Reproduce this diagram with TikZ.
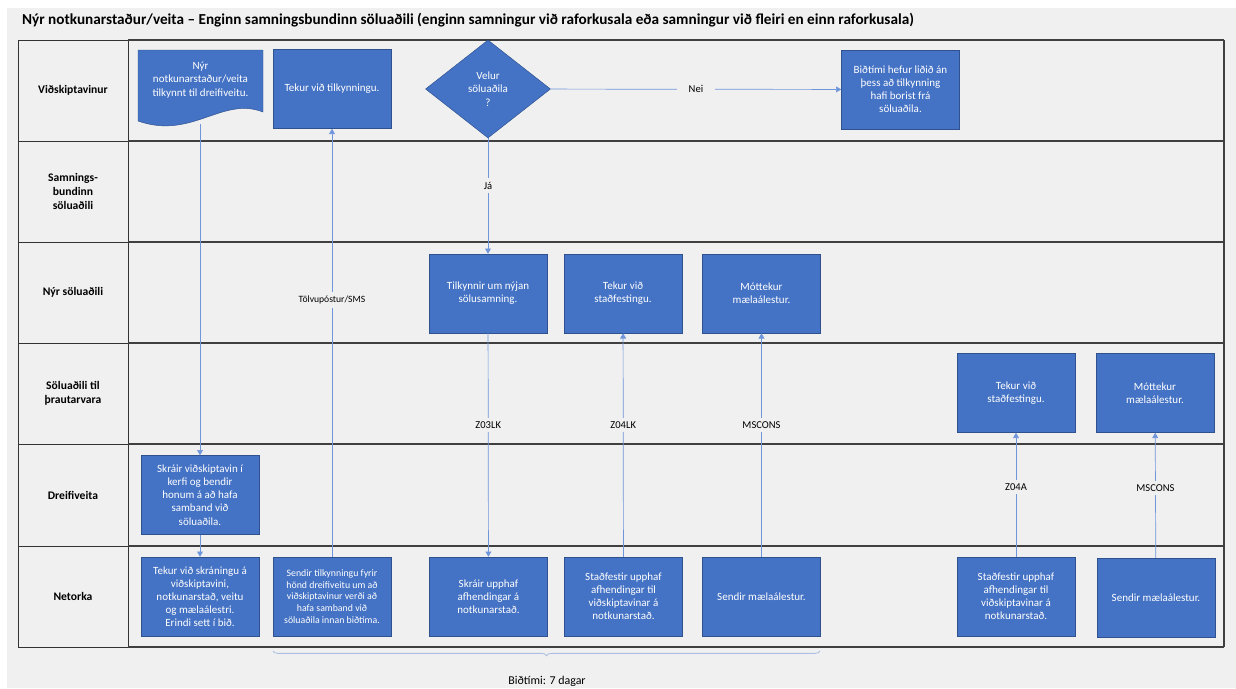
\documentclass[tikz,border=0pt]{standalone}
\usepackage{fontspec}
\setmainfont{Carlito}
\usetikzlibrary{shapes.geometric,arrows.meta,decorations.pathreplacing}
\definecolor{bgc}{HTML}{F0F0F0}
\definecolor{boxfill}{HTML}{4472C4}
\definecolor{boxline}{HTML}{2F528F}
\definecolor{flow}{HTML}{6F95DA}
\definecolor{bracec}{HTML}{A9BFE3}

\begin{document}
\begin{tikzpicture}[x=0.03cm,y=-0.03cm,
    stepbox/.style={draw=boxline,fill=boxfill,text=white,align=center,
      minimum width=3.54cm,minimum height=2.37cm,inner sep=1pt,
      font=\fontsize{9.4}{11.2}\selectfont},
    choice/.style={diamond,draw=boxline,fill=boxfill,text=white,align=center,
      minimum width=3.75cm,minimum height=2.94cm,inner sep=0pt,
      font=\fontsize{9.4}{11.6}\selectfont},
    lane/.style={align=center,font=\bfseries\fontsize{9.9}{12}\selectfont},
    flow/.style={draw=flow,line width=0.6pt,-{Triangle[width=5pt,length=4.5pt]}},
    flowlbl/.style={fill=bgc,text=black,inner sep=3pt,font=\fontsize{9}{10}\selectfont}]

    \useasboundingbox (0,0) rectangle (1236,688);
    \fill[bgc] (7,8) rectangle (1236,688);

    % Title
    \node[anchor=west,font=\bfseries\fontsize{13}{15}\selectfont] (title) at (18,20)
        {Nýr notkunarstaður/veita – Enginn samningsbundinn söluaðili (enginn samningur við raforkusala eða samningur við fleiri en einn raforkusala)};

    % Swimlanes
    \draw[black!80,line width=0.6pt] (18,40) rectangle (128,647);
    \foreach \y in {141,242,343,444,546}
        \draw[black!80,line width=0.6pt] (18,\y) -- (128,\y);
    \foreach \y in {40,141,242,343,444,546,647}
        \draw[black!75,line width=1.3pt] (128,\y) -- (1224,\y);
    \draw[black!75,line width=1.3pt] (1224,40) -- (1224,647);

    \node[lane] (l1) at (73,90.5) {Viðskiptavinur};
    \node[lane] (l2) at (73,191.5) {Samnings-\\bundinn\\söluaðili};
    \node[lane] (l3) at (73,292.5) {Nýr söluaðili};
    \node[lane] (l4) at (73,393.5) {Söluaðili til\\þrautarvara};
    \node[lane] (l5) at (73,495) {Dreifiveita};
    \node[lane] (l6) at (73,596.5) {Netorka};

    % Viðskiptavinur
    \draw[draw=boxline,fill=boxfill] (138,50) -- (263,50) -- (263,112)
        .. controls (222,96) and (192,140) .. (138,121) -- cycle;
    \node[text=white,align=center,font=\fontsize{9.4}{11.2}\selectfont] (nyr) at (200.5,80)
        {Nýr\\notkunarstaður/veita\\tilkynnt til dreifiveitu.};
    \coordinate (nyrb) at (200,124);
    \node[stepbox] (tilk) at (332,89) {Tekur við tilkynningu.};
    \node[choice] (velur) at (488,89) {Velur\\söluaðila\\?};
    \node[stepbox] (bidt) at (900.5,89.5) {Biðtími hefur liðið án\\þess að tilkynning\\hafi borist frá\\söluaðila.};

    % Nýr söluaðili
    \node[stepbox] (tilnyj) at (488,293.5) {Tilkynnir um nýjan\\sölusamning.};
    \node[stepbox] (tekst1) at (623,293.5) {Tekur við\\staðfestingu.};
    \node[stepbox] (mott1) at (761.5,293.5) {Móttekur\\mælaálestur.};

    % Söluaðili til þrautarvara
    \node[stepbox] (tekst2) at (1016,393) {Tekur við\\staðfestingu.};
    \node[stepbox] (mott2) at (1155,393) {Móttekur\\mælaálestur.};

    % Dreifiveita
    \node[stepbox] (skrvid) at (200,495) {Skráir viðskiptavin í\\kerfi og bendir\\honum á að hafa\\samband við\\söluaðila.};

    % Netorka
    \node[stepbox] (tekskr) at (200,596.5) {Tekur við skráningu á\\viðskiptavini,\\notkunarstað, veitu\\og mælaálestri.\\Erindi sett í bið.};
    \node[stepbox,font=\fontsize{8.4}{10}\selectfont] (sendtilk) at (332,596.5)
        {Sendir tilkynningu fyrir\\hönd dreifiveitu um að\\viðskiptavinur verði að\\hafa samband við\\söluaðila innan biðtíma.};
    \node[stepbox] (skrupp) at (488.5,596.5) {Skráir upphaf\\afhendingar á\\notkunarstað.};
    \node[stepbox] (stadf1) at (623.5,596.5) {Staðfestir upphaf\\afhendingar til\\viðskiptavinar á\\notkunarstað.};
    \node[stepbox] (sendm1) at (761.5,596.5) {Sendir mælaálestur.};
    \node[stepbox] (stadf2) at (1016,596.5) {Staðfestir upphaf\\afhendingar til\\viðskiptavinar á\\notkunarstað.};
    \node[stepbox] (sendm2) at (1156,597.5) {Sendir mælaálestur.};

    % Connectors
    \draw[flow] (nyrb) -- (skrvid);
    \draw[flow] (skrvid) -- (tekskr);
    \draw[flow] (sendtilk) -- node[flowlbl,pos=0.6,font=\fontsize{8.2}{10}\selectfont] {Tölvupóstur/SMS} (tilk);
    \draw[flow] (velur) -- node[flowlbl,pos=0.5,inner xsep=10pt] {Nei} (bidt);
    \draw[flow] (velur) -- node[flowlbl,pos=0.41] {Já} (tilnyj);
    \draw[flow] (tilnyj) -- node[flowlbl,pos=0.41] {Z03LK} (skrupp);
    \draw[flow] (stadf1) -- node[flowlbl,pos=0.59] {Z04LK} (tekst1);
    \draw[flow] (sendm1) -- node[flowlbl,pos=0.59] {MSCONS} (mott1);
    \draw[flow] (stadf2) -- node[flowlbl,pos=0.56] {Z04A} (tekst2);
    \draw[flow] (sendm2) -- node[flowlbl,pos=0.56] {MSCONS} (mott2);

    % Biðtími
    \draw[bracec,line width=0.7pt,decorate,decoration={brace,mirror,amplitude=4pt}]
        (273,651) -- (820,651);
    \node[font=\fontsize{10.2}{12}\selectfont] (bidlbl) at (547,681) {Biðtími: 7 dagar};
\end{tikzpicture}
\end{document}
